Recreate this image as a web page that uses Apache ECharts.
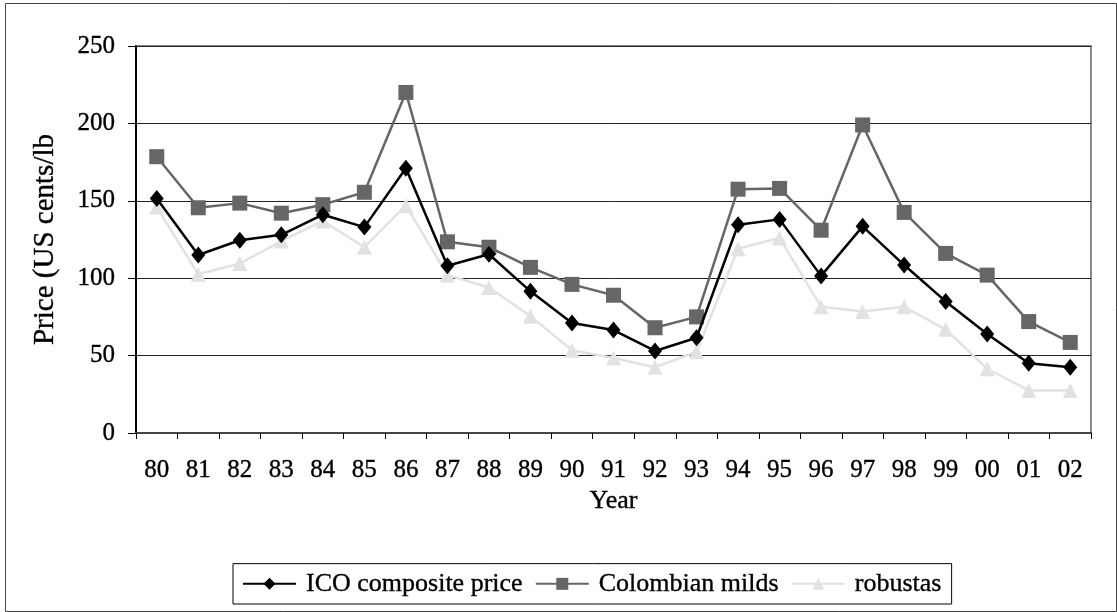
<!DOCTYPE html>
<html>
<head>
<meta charset="utf-8">
<script src="https://cdn.jsdelivr.net/npm/echarts@6/dist/echarts.min.js"></script>
<style>
  html, body { margin: 0; padding: 0; background: #fff; }
  #chart { width: 1117px; height: 612px; }
</style>
</head>
<body>
<div id="chart"></div>
<script>
// Coffee prices 1980–2002, US cents per pound
const years = ['80','81','82','83','84','85','86','87','88','89','90','91','92','93','94','95','96','97','98','99','00','01','02'];
const icoComposite = [151.5, 115, 124.5, 128, 141, 133, 171, 108, 115.5, 91.5, 71, 66.5, 53, 61.5, 134.5, 138, 101.5, 133.5, 108.5, 85, 64, 45, 42.5];
const colombianMilds = [178.5, 145.5, 148.5, 142, 147.5, 155.5, 220, 123.5, 120, 107, 96, 89, 68, 75, 157.5, 158, 131, 199, 142.5, 116, 102, 72, 58.5];
const robustas = [146, 102.5, 109.5, 124, 137, 120, 147, 102, 94, 75.5, 53.5, 48.5, 42.5, 52.5, 119, 126, 81.5, 78.5, 81.5, 67, 41.5, 27.5, 27.5];
const yTicks = [0, 50, 100, 150, 200, 250];

const FONT = 'Liberation Serif';
// a hairline stroke gives the serif text a slightly heavier colour
const ink = { fontFamily: FONT, color: '#000', textBorderColor: '#000', textBorderWidth: 0.35 };
const chart = echarts.init(document.getElementById('chart'));

chart.setOption({
  animation: false,
  backgroundColor: '#ffffff',
  textStyle: { fontFamily: FONT, color: '#000' },
  grid: { left: 136, right: 26, top: 46, bottom: 179, show: true,
          borderColor: '#8a8a8a', borderWidth: 2, backgroundColor: 'transparent' },
  graphic: [{
    type: 'rect', left: 3, top: 1, shape: { width: 1111, height: 608 },
    style: { fill: 'none', stroke: '#444', lineWidth: 1 }, silent: true, z: 0
  }],
  legend: {
    bottom: 8, left: 233,
    orient: 'horizontal',
    itemWidth: 53, itemHeight: 15, itemGap: 12,
    padding: [7, 10, 7, 9],
    borderColor: '#000', borderWidth: 1,
    textStyle: Object.assign({ fontSize: 26, padding: [0, 0, 0, 5] }, ink),
    data: ['ICO composite price', 'Colombian milds', 'robustas']
  },
  xAxis: {
    type: 'category',
    data: years,
    boundaryGap: true,
    name: 'Year',
    nameLocation: 'middle',
    nameGap: 47,
    nameTextStyle: Object.assign({ fontSize: 26 }, ink),
    axisLine: { lineStyle: { color: '#444', width: 2 } },
    axisTick: { show: true, inside: false, length: 6, alignWithLabel: false, lineStyle: { color: '#000', width: 1 } },
    axisLabel: Object.assign({ fontSize: 25, margin: 25, interval: 0 }, ink),
    splitLine: { show: false }
  },
  yAxis: {
    type: 'value',
    min: yTicks[0], max: yTicks[yTicks.length - 1], interval: 50,
    name: 'Price (US cents/lb',
    nameLocation: 'middle',
    nameGap: 76,
    nameRotate: 90,
    nameTextStyle: Object.assign({ fontSize: 29 }, ink),
    axisLine: { show: true, lineStyle: { color: '#000', width: 2 } },
    axisTick: { show: true, inside: false, length: 8, lineStyle: { color: '#000', width: 1 } },
    axisLabel: Object.assign({ fontSize: 25, margin: 21 }, ink),
    splitLine: { show: true, lineStyle: { color: '#222', width: 1 } }
  },
  series: [
    {
      name: 'ICO composite price', type: 'line', data: icoComposite,
      symbol: 'diamond', symbolSize: [14, 17], z: 4,
      lineStyle: { color: '#000', width: 2.5 },
      itemStyle: { color: '#000' }
    },
    {
      name: 'Colombian milds', type: 'line', data: colombianMilds,
      symbol: 'rect', symbolSize: 15, z: 3,
      lineStyle: { color: '#666', width: 2.5 },
      itemStyle: { color: '#666' }
    },
    {
      name: 'robustas', type: 'line', data: robustas,
      symbol: 'triangle', symbolSize: 15, z: 2,
      lineStyle: { color: '#e2e2e2', width: 2.5 },
      itemStyle: { color: '#e2e2e2' }
    }
  ]
});
</script>
</body>
</html>
